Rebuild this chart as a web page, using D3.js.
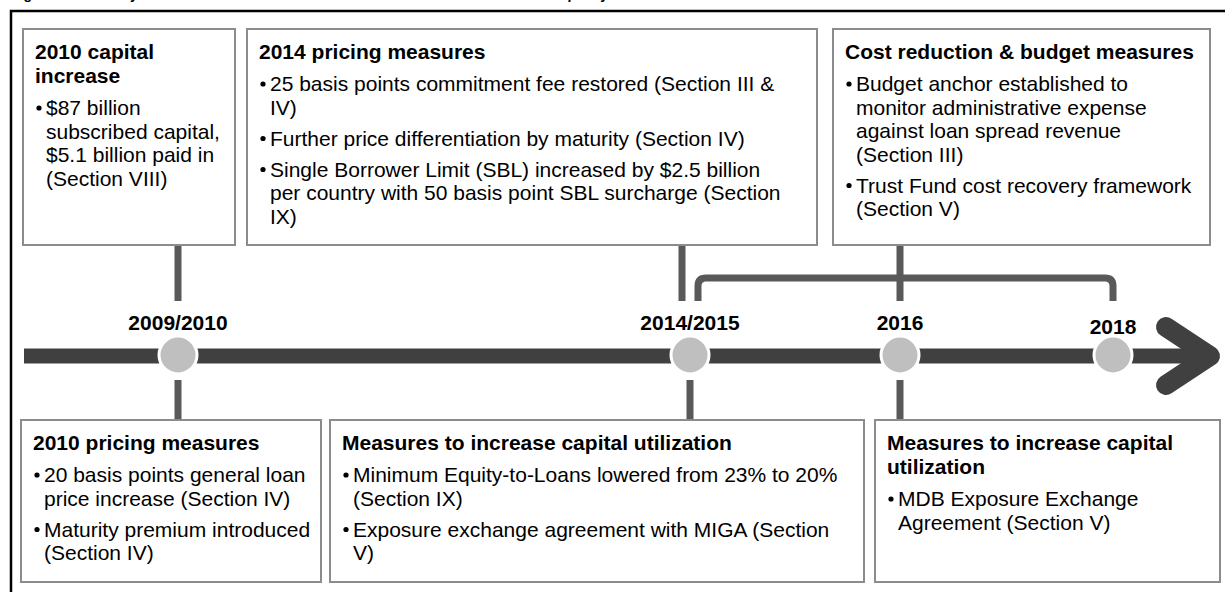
<!DOCTYPE html>
<html>
<head>
<meta charset="utf-8">
<script src="https://cdn.jsdelivr.net/npm/d3@7/dist/d3.min.js"></script>
<style>
  body { margin: 0; background: #fff; }
  svg { display: block; }
  text { font-family: Arial, "Liberation Sans", sans-serif; fill: #000; }
</style>
</head>
<body>
<div id="chart"></div>
<script>
// timeline milestones
const milestones = ['2009/2010', '2014/2015', '2016', '2018'];

// boxes above the arrow
const topHeadings = [
  ['2010 capital', 'increase'],
  ['2014 pricing measures'],
  ['Cost reduction & budget measures']
];
const topBullets = [
  [['$87 billion', 'subscribed capital,', '$5.1 billion paid in', '(Section VIII)']],
  [['25 basis points commitment fee restored (Section III &', 'IV)'],
   ['Further price differentiation by maturity (Section IV)'],
   ['Single Borrower Limit (SBL) increased by $2.5 billion', 'per country with 50 basis point SBL surcharge (Section', 'IX)']],
  [['Budget anchor established to', 'monitor administrative expense', 'against loan spread revenue', '(Section III)'],
   ['Trust Fund cost recovery framework', '(Section V)']]
];

// boxes below the arrow
const bottomHeadings = [
  ['2010 pricing measures'],
  ['Measures to increase capital utilization'],
  ['Measures to increase capital', 'utilization']
];
const bottomBullets = [
  [['20 basis points general loan', 'price increase (Section IV)'], ['Maturity premium introduced', '(Section IV)']],
  [['Minimum Equity-to-Loans lowered from 23% to 20%', '(Section IX)'], ['Exposure exchange agreement with MIGA (Section', 'V)']],
  [['MDB Exposure Exchange', 'Agreement (Section V)']]
];

// only the descenders of the title show at the top edge
const title = 'Figure 1: Summary of measures taken to enhance IBRD\'s financial and related loan policy';

const width = 1225;
const height = 592;
const axisY = 356;
const fontSize = 21;

const x = d3.scaleLinear()
  .domain(d3.range(milestones.length))
  .range([178, 690, 900, 1113]);

const topLayout = [
  { x0: 23, x1: 235, m: 0, link: 178 },
  { x0: 247, x1: 817, m: 1, link: 682 },
  { x0: 833, x1: 1210, m: 2, link: 900 }
];
const bottomLayout = [
  { x0: 21, x1: 321, m: 0 },
  { x0: 330, x1: 864, m: 1 },
  { x0: 875, x1: 1220, m: 2 }
];

const svg = d3.select('#chart')
  .append('svg')
  .attr('width', width)
  .attr('height', height);

svg.append('text')
  .attr('x', 11)
  .attr('y', -1)
  .style('font-size', '14px')
  .style('font-weight', 'bold')
  .text(title);

// outer frame
svg.append('path')
  .attr('d', 'M11,' + (height + 10) + 'V11H' + (width + 10))
  .attr('fill', 'none')
  .attr('stroke', '#000')
  .attr('stroke-width', 2.5);

function drawBox(box, y0, y1, heads, bullets) {
  const g = svg.append('g');
  g.append('rect')
    .attr('x', box.x0)
    .attr('y', y0)
    .attr('width', box.x1 - box.x0)
    .attr('height', y1 - y0)
    .attr('fill', '#fff')
    .attr('stroke', '#8c8c8c')
    .attr('stroke-width', 2);

  let y = y0 + 30;
  heads.forEach((t, i) => {
    g.append('text')
      .attr('x', box.x0 + 12)
      .attr('y', y + i * 24)
      .style('font-size', fontSize + 'px')
      .style('font-weight', 'bold')
      .text(t);
  });
  y += (heads.length - 1) * 24 + 32;

  bullets.forEach(lines => {
    g.append('circle')
      .attr('cx', box.x0 + 16)
      .attr('cy', y - 7)
      .attr('r', 2.6)
      .attr('fill', '#000');
    lines.forEach((t, j) => {
      g.append('text')
        .attr('x', box.x0 + 23)
        .attr('y', y + j * 23.5)
        .style('font-size', fontSize + 'px')
        .text(t);
    });
    y += (lines.length - 1) * 23.5 + 31;
  });
}

const connector = '#595959';

// connectors from top boxes down towards the arrow
topLayout.forEach(b => {
  svg.append('line')
    .attr('x1', b.link).attr('x2', b.link)
    .attr('y1', 245).attr('y2', 301)
    .attr('stroke', connector)
    .attr('stroke-width', 7);
});

// bracket spanning 2014/2015 to 2018
const bx0 = x(1) + 8;
const bx1 = x(3);
const by = 278;
const r = 8;
svg.append('path')
  .attr('d', 'M' + bx0 + ',301V' + (by + r) + 'Q' + bx0 + ',' + by + ' ' + (bx0 + r) + ',' + by +
    'H' + (bx1 - r) + 'Q' + bx1 + ',' + by + ' ' + bx1 + ',' + (by + r) + 'V301')
  .attr('fill', 'none')
  .attr('stroke', connector)
  .attr('stroke-width', 7);

// connectors from the arrow down to bottom boxes
bottomLayout.forEach(b => {
  svg.append('line')
    .attr('x1', x(b.m)).attr('x2', x(b.m))
    .attr('y1', 380).attr('y2', 421)
    .attr('stroke', connector)
    .attr('stroke-width', 7);
});

topLayout.forEach((b, i) => drawBox(b, 29, 245, topHeadings[i], topBullets[i]));
bottomLayout.forEach((b, i) => drawBox(b, 420, 582, bottomHeadings[i], bottomBullets[i]));

// main arrow
const arrowColor = '#404040';
svg.append('line')
  .attr('x1', 24).attr('x2', 1200)
  .attr('y1', axisY).attr('y2', axisY)
  .attr('stroke', arrowColor)
  .attr('stroke-width', 15);

svg.append('path')
  .attr('d', 'M1166,' + (axisY - 29) + 'L1210,' + axisY + 'L1166,' + (axisY + 29))
  .attr('fill', 'none')
  .attr('stroke', arrowColor)
  .attr('stroke-width', 20)
  .attr('stroke-linecap', 'round')
  .attr('stroke-linejoin', 'round');

// milestone dots
svg.selectAll('circle.milestone')
  .data(milestones)
  .enter()
  .append('circle')
  .attr('class', 'milestone')
  .attr('cx', (d, i) => x(i))
  .attr('cy', axisY - 1)
  .attr('r', 19)
  .attr('fill', '#bfbfbf')
  .attr('stroke', '#fff')
  .attr('stroke-width', 3);

svg.selectAll('text.year')
  .data(milestones)
  .enter()
  .append('text')
  .attr('class', 'year')
  .attr('x', (d, i) => x(i))
  .attr('y', (d, i) => i === 3 ? 334 : 330)
  .attr('text-anchor', 'middle')
  .style('font-size', fontSize + 'px')
  .style('font-weight', 'bold')
  .text(d => d);
</script>
</body>
</html>
